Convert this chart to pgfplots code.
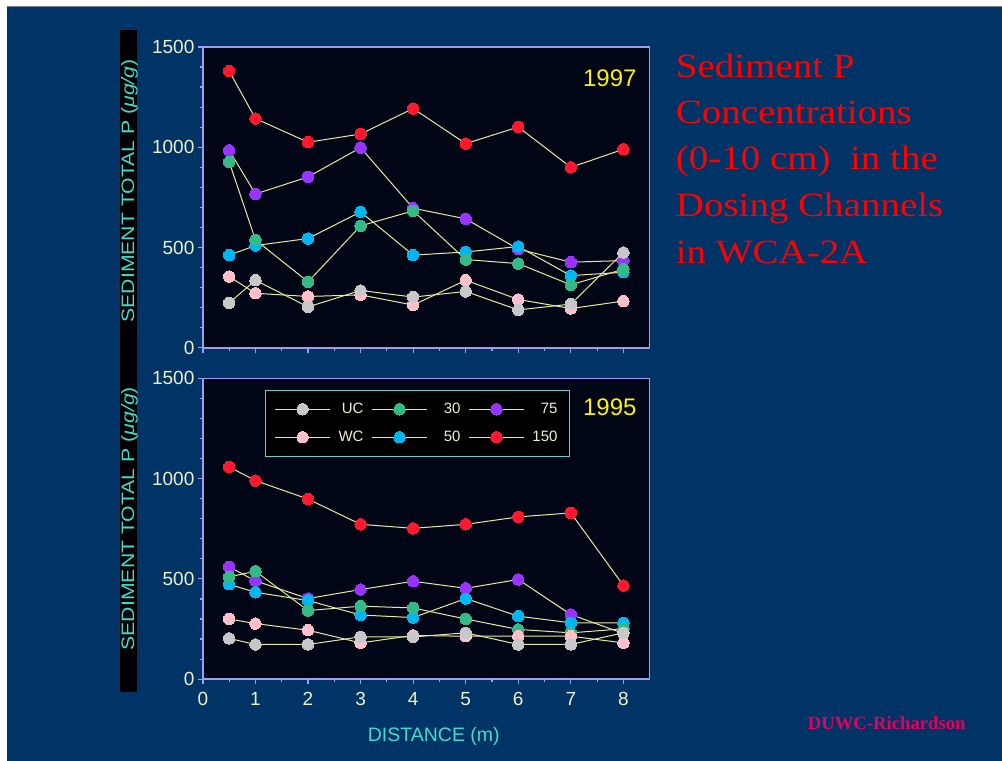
\documentclass[border=0pt]{standalone}
\usepackage{graphicx}
\usepackage{pgfplots}
\pgfplotsset{compat=1.18}
\usepackage{fontspec}
\setmainfont{Liberation Serif}
\setsansfont{Liberation Sans}
\definecolor{navy}{RGB}{0,51,102}
\definecolor{plotbg}{RGB}{0,6,22}
\definecolor{axcol}{RGB}{160,156,240}
\definecolor{cream}{RGB}{240,240,200}
\definecolor{cyanlab}{RGB}{64,220,208}
\definecolor{linec}{RGB}{232,232,160}
\definecolor{cUC}{RGB}{200,200,200}
\definecolor{cWC}{RGB}{255,192,203}
\definecolor{cA}{RGB}{52,185,135}
\definecolor{cB}{RGB}{0,182,240}
\definecolor{cC}{RGB}{153,51,255}
\definecolor{cD}{RGB}{255,24,46}
\definecolor{legbd}{RGB}{102,204,204}
\definecolor{foot}{RGB}{230,0,92}
\pgfplotsset{
  ser/.style={color=linec, line width=1pt, mark=*, mark size=5.7pt,
    mark options={draw=#1, fill=#1, line width=0pt}},
  panel/.style={
    scale only axis, width=447pt, height=301pt,
    xmin=0, xmax=8.5, ymin=0, ymax=1500,
    xtick={0,1,...,8}, ytick={0,500,1000,1500},
    minor x tick num=1, minor y tick num=4,
    tick pos=left, tick align=outside,
    major tick length=5pt, minor tick length=3pt,
    axis background/.style={fill=plotbg},
    axis line style={draw=axcol, line width=1.5pt},
    every tick/.style={draw=axcol, line width=1.2pt},
    tick label style={font=\sffamily\fontsize{19}{19}\selectfont, text=cream},
    /pgf/number format/assume math mode=true,
    /pgf/number format/1000 sep={},
    clip=false,
  },
}
\newcommand{\ylab}{\scalebox{1.18}[1]{SEDIMENT TOTAL P (\textit{μg/g})}}
\newcommand{\tl}[1]{\scalebox{1.147}[1]{#1}}
\begin{document}
\begin{tikzpicture}[x=1pt,y=1pt]
\fill[white] (0,0) rectangle (1002,761);
\fill[navy] (7,0) rectangle (1002,754);
\draw[gray, line width=1pt] (7,754.5) -- (1002,754.5);
\fill[black] (120,69) rectangle (137.5,731);
\node[rotate=90, text=cyanlab, font=\sffamily\fontsize{18}{18}\selectfont] at (129.5,570) {\ylab};
\node[rotate=90, text=cyanlab, font=\sffamily\fontsize{18}{18}\selectfont] at (129.5,242) {\ylab};

% top panel 1997
\begin{axis}[panel, at={(203pt,413pt)}, anchor=south west, xticklabels={}]
\addplot[ser=cD] coordinates {(0.5,1380)(1,1143)(2,1025)(3,1066)(4,1193)(5,1018)(6,1101)(7,900)(8,990)};
\addplot[ser=cC] coordinates {(0.5,985)(1,767)(2,852)(3,998)(4,696)(5,643)(6,492)(7,427)(8,435)};
\addplot[ser=cB] coordinates {(0.5,462)(1,510)(2,545)(3,678)(4,462)(5,478)(6,505)(7,360)(8,377)};
\addplot[ser=cA] coordinates {(0.5,927)(1,538)(2,329)(3,608)(4,683)(5,440)(6,420)(7,314)(8,392)};
\addplot[ser=cWC] coordinates {(0.5,355)(1,272)(2,256)(3,264)(4,213)(5,337)(6,241)(7,196)(8,233)};
\addplot[ser=cUC] coordinates {(0.5,224)(1,337)(2,204)(3,286)(4,253)(5,281)(6,189)(7,218)(8,475)};
\end{axis}

% bottom panel 1995
\begin{axis}[panel, at={(203pt,81.5pt)}, anchor=south west,
  xticklabel style={yshift=-5pt},
  legend columns=3,
  legend image code/.code={\draw[mark repeat=2, mark phase=2] plot coordinates {(0pt,0pt) (27.5pt,0pt) (55pt,0pt)};},
  legend style={at={(axis description cs:0.139,0.962)}, anchor=north west,
    fill=black, draw=legbd, line width=1.2pt, text=cream,
    font=\sffamily\fontsize{15}{15}\selectfont,
    nodes={inner sep=3pt},
    row sep=10pt, inner xsep=9pt, inner ysep=10pt,
    /tikz/every even column/.append style={column sep=5pt}},
]
\addlegendimage{ser=cUC}\addlegendentry{\makebox[30pt][r]{UC}}
\addlegendimage{ser=cA}\addlegendentry{\makebox[30pt][r]{30}}
\addlegendimage{ser=cC}\addlegendentry{\makebox[30pt][r]{75}}
\addlegendimage{ser=cWC}\addlegendentry{\makebox[30pt][r]{WC}}
\addlegendimage{ser=cB}\addlegendentry{\makebox[30pt][r]{50}}
\addlegendimage{ser=cD}\addlegendentry{\makebox[30pt][r]{150}}
\addplot[ser=cD, forget plot] coordinates {(0.5,1058)(1,990)(2,898)(3,772)(4,752)(5,772)(6,809)(7,829)(8,467)};
\addplot[ser=cC, forget plot] coordinates {(0.5,560)(1,490)(2,402)(3,447)(4,488)(5,453)(6,497)(7,322)(8,228)};
\addplot[ser=cB, forget plot] coordinates {(0.5,473)(1,433)(2,392)(3,320)(4,307)(5,402)(6,314)(7,281)(8,281)};
\addplot[ser=cA, forget plot] coordinates {(0.5,510)(1,538)(2,342)(3,364)(4,355)(5,300)(6,248)(7,231)(8,251)};
\addplot[ser=cWC, forget plot] coordinates {(0.5,300)(1,277)(2,244)(3,181)(4,218)(5,214)(6,214)(7,214)(8,181)};
\addplot[ser=cUC, forget plot] coordinates {(0.5,203)(1,173)(2,173)(3,211)(4,211)(5,231)(6,173)(7,173)(8,231)};
\end{axis}

\node[anchor=base east, inner sep=0pt, text=yellow, font=\sffamily\fontsize{24}{24}\selectfont] at (637,674.3) {1997};
\node[anchor=base east, inner sep=0pt, text=yellow, font=\sffamily\fontsize{24}{24}\selectfont] at (637,345) {1995};
\node[text=cyanlab, font=\sffamily\fontsize{19.5}{19.5}\selectfont] at (434,24) {DISTANCE (m)};

\begin{scope}[every node/.style={anchor=base west, text=red, font=\fontsize{34}{34}\selectfont, inner sep=0pt}]
\node at (676,683.7) {\tl{Sediment P}};
\node at (676,637.7) {\tl{Concentrations}};
\node at (676,591) {\tl{(0-10 cm)\ \ in the}};
\node at (676,544.3) {\tl{Dosing Channels}};
\node at (676,497) {\tl{in WCA-2A}};
\end{scope}
\node[anchor=base west, inner sep=0pt, text=foot, font=\bfseries\fontsize{18.7}{18.7}\selectfont] at (808,31) {DUWC-Richardson};
\end{tikzpicture}
\end{document}
